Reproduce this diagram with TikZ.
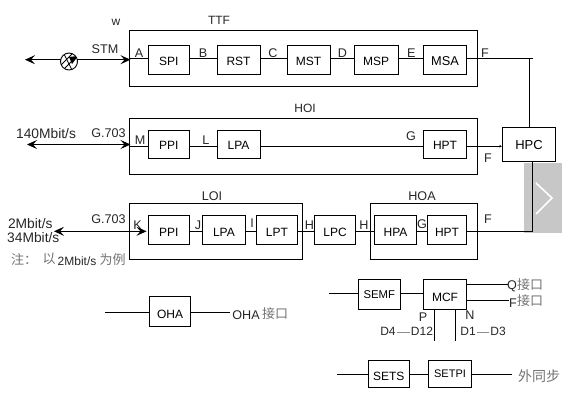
\documentclass[tikz,border=0pt]{standalone}
\usepackage{fontspec}
\setmainfont{Liberation Sans}
\newfontfamily\cjk{Noto Sans CJK SC}
\usetikzlibrary{arrows.meta}
\definecolor{cjkgrey}{gray}{0.45}
\newcommand{\bigfs}{\fontsize{13.8}{14}\selectfont}
\newcommand{\midfs}{\fontsize{12.6}{14}\selectfont}
\tikzset{
  sysbox/.style={draw=black,line width=0.9pt,fill=none},
  unit/.style={draw=black,line width=0.9pt,inner sep=0pt,text depth=0pt,font=\fontsize{12}{13}\selectfont},
  lab/.style={inner sep=0pt,font=\fontsize{12}{13}\selectfont,text=black!85},
  cjklab/.style={inner sep=0pt,font=\cjk\fontsize{13}{14}\selectfont,text=cjkgrey},
  wire/.style={line width=0.9pt,black},
  bidir/.style={wire,{Stealth[length=10pt,width=9pt,inset=4pt]}-{Stealth[length=10pt,width=9pt,inset=4pt]}},
}
% [text height], name, x0, y0, x1, y1, text
\newcommand{\unitbox}[7][10.6pt]{\node[unit,text height=#1,minimum width=#5pt-#3pt,minimum height=#6pt-#4pt] (#2) at ({(#3+#5)/2},{(#4+#6)/2}) {#7};}
\newcommand{\sysframe}[5]{\node[sysbox,inner sep=0pt,minimum width=#4pt-#2pt,minimum height=#5pt-#3pt] (#1) at ({(#2+#4)/2},{(#3+#5)/2}) {};}
\newcommand{\lb}[4]{\node[lab] (#1) at (#2,#3) {#4};}
\newcommand{\cl}[4]{\node[cjklab] (#1) at (#2,#3) {#4};}
\begin{document}
\begin{tikzpicture}[x=1pt,y=-1pt]
\useasboundingbox (0,0) rectangle (562,401);
% grey pager
\fill[black!22] (524,163) rectangle (562,232.5);
\draw[white,line width=1.6pt] (536,183) -- (552,198) -- (536,214);
% frames
\sysframe{ttf}{129}{30.3}{477.3}{86.3}
\sysframe{hoi}{129}{118.3}{477.3}{174.3}
\sysframe{loi}{129}{203.3}{302.7}{259.3}
\sysframe{hoa}{370.3}{203.3}{477.3}{259.3}
% row 1
\unitbox{spi}{148}{45.3}{189.5}{74.3}{SPI}
\unitbox{rst}{217}{45.3}{260}{74.3}{RST}
\unitbox{mst}{287.3}{45.3}{330}{74.3}{MST}
\unitbox{msp}{354.3}{45.3}{398}{74.3}{MSP}
\unitbox{msa}{423.3}{45.3}{466.7}{74.3}{\fontsize{12.8}{13}\selectfont MSA}
% row 2
\unitbox{ppia}{148}{130.3}{189.5}{158.3}{PPI}
\unitbox{lpaa}{217}{130.3}{260}{158.3}{LPA}
\unitbox{hpta}{423.3}{130.3}{466.7}{158.3}{HPT}
\unitbox{hpc}{502.3}{127}{555.7}{161.5}{\fontsize{13}{13}\selectfont HPC}
% row 3
\unitbox[13.6pt]{ppib}{148}{215.3}{189.5}{244.3}{PPI}
\unitbox[13.6pt]{lpab}{202.3}{215.3}{245.5}{244.3}{LPA}
\unitbox[13.6pt]{lpt}{256.3}{215.3}{297.7}{244.3}{LPT}
\unitbox[13.6pt]{lpc}{314.3}{215.3}{355.7}{244.3}{LPC}
\unitbox[13.6pt]{hpa}{374.3}{215.3}{416.7}{244.3}{HPA}
\unitbox[13.6pt]{hptb}{427.3}{215.3}{466.7}{244.3}{HPT}
% lower
\unitbox[14.6pt]{oha}{149.5}{296.3}{190.7}{326.3}{OHA}
\unitbox[8.6pt]{semf}{358.3}{279.3}{400.3}{309.3}{\fontsize{11.3}{12}\selectfont SEMF}
\unitbox[13.4pt]{mcf}{423.3}{279.3}{466.7}{309.3}{MCF}
\unitbox[12.6pt]{sets}{368.3}{360.3}{409.3}{387.3}{SETS}
\unitbox[6.6pt]{setpi}{428.3}{360.3}{471.7}{387.3}{\fontsize{11}{12}\selectfont SETPI}
% free ends and levels
\coordinate (ya) at (0,58.4);
\coordinate (yb) at (0,146.2);
\coordinate (yc) at (0,231.3);
\coordinate (yo) at (0,312.3);
\coordinate (ys) at (0,293.3);
\coordinate (yt) at (0,374);
\coordinate (yq) at (0,284.3);
\coordinate (yf) at (0,300.3);
\coordinate (stmL) at (25,59.7);
\coordinate (stmR) at (130.5,59.7);
\coordinate (eL) at (27,144.5);
\coordinate (eR) at (130.5,144.5);
\coordinate (tL) at (54,231.3);
\coordinate (tR) at (146.5,231.3);
\coordinate (fEnd) at (533,58.4);
\coordinate (fTurn) at (529.5,58.4);
\coordinate (fCorner) at (532,231.3);
\coordinate (ohaL) at (105,312.3);
\coordinate (ohaR) at (230,312.3);
\coordinate (semfL) at (329.3,293.3);
\coordinate (qEnd) at (507.7,284.3);
\coordinate (fiEnd) at (509.3,300.3);
\coordinate (pEnd) at (434.7,340.7);
\coordinate (nEnd) at (455.3,340.7);
\coordinate (setsL) at (337,374);
\coordinate (setR) at (511.7,374);
% connectors
\draw[bidir] (stmL) -- (stmR);
\draw[bidir] (eL) -- (eR);
\draw[bidir] (tL) -- (tR);
\draw[wire] (ttf.west|-ya) -- (spi.west|-ya);
\draw[wire] (spi.east|-ya) -- (rst.west|-ya);
\draw[wire] (rst.east|-ya) -- (mst.west|-ya);
\draw[wire] (mst.east|-ya) -- (msp.west|-ya);
\draw[wire] (msp.east|-ya) -- (msa.west|-ya);
\draw[wire] (msa.east|-ya) -- (fEnd);
\draw[wire] (fTurn) -- (fTurn|-hpc.north);
\draw[wire] (hoi.west|-yb) -- (ppia.west|-yb);
\draw[wire] (ppia.east|-yb) -- (lpaa.west|-yb);
\draw[wire] (lpaa.east|-yb) -- (hpta.west|-yb);
\draw[wire,-{Stealth[length=2.5pt,width=2.5pt]}] (hpta.east|-yb) -- (hpc.west|-yb);
\draw[wire] (fCorner|-hpc.south) -- (fCorner) -- (hptb.east|-yc);
\draw[wire] (ppib.east|-yc) -- (lpab.west|-yc);
\draw[wire] (lpab.east|-yc) -- (lpt.west|-yc);
\draw[wire] (lpt.east|-yc) -- (lpc.west|-yc);
\draw[wire] (lpc.east|-yc) -- (hpa.west|-yc);
\draw[wire] (hpa.east|-yc) -- (hptb.west|-yc);
\draw[wire] (ohaL) -- (oha.west|-yo);
\draw[wire] (oha.east|-yo) -- (ohaR);
\draw[wire] (semfL) -- (semf.west|-ys);
\draw[wire] (semf.east|-ys) -- (mcf.west|-ys);
\draw[wire] (mcf.east|-yq) -- (qEnd);
\draw[wire] (mcf.east|-yf) -- (fiEnd);
\draw[wire] (pEnd|-mcf.south) -- (pEnd);
\draw[wire] (nEnd|-mcf.south) -- (nEnd);
\draw[wire] (setsL) -- (sets.west|-yt);
\draw[wire] (sets.east|-yt) -- (setpi.west|-yt);
\draw[wire] (setpi.east|-yt) -- (setR);
% globe
\node[circle,draw=black,line width=0.9pt,fill=white,minimum size=17pt,inner sep=0pt] (globe) at (69,61.5) {};
\begin{scope}
\clip (globe.center) circle (8.5pt);
\draw[line width=0.8pt] (60,66) -- (72,54) (63,70) -- (77,56);
\draw[line width=0.8pt] (64,54) -- (72,70);
\fill[black] (69,57) -- (78,56) -- (72,64) -- cycle;
\end{scope}
% labels
\lb{w}{116}{22}{w}
\lb{ttfL}{219}{20.5}{TTF}
\lb{stm}{105}{49.5}{\midfs STM}
\lb{la}{139}{53}{\midfs A}
\lb{lb}{203}{53.5}{\midfs B}
\lb{lc}{273}{53}{\midfs C}
\lb{ld}{342.3}{53}{\midfs D}
\lb{le}{411.3}{53}{\midfs E}
\lb{lf}{485}{53}{\midfs F}
\lb{hoiL}{305}{108.5}{HOI}
\lb{rate}{46}{133.5}{\bigfs 140Mbit/s}
\lb{gA}{108.5}{133.5}{\midfs G.703}
\lb{lm}{140}{140.5}{\midfs M}
\lb{ll}{206}{140}{\midfs L}
\lb{lg}{411}{136.5}{\midfs G}
\lb{lf2}{488}{158}{\midfs F}
\lb{loiL}{212}{196}{\midfs LOI}
\lb{hoaL}{422}{196}{\midfs HOA}
\lb{gB}{108.5}{219.5}{\midfs G.703}
\lb{rb}{30.3}{224}{\bigfs 2Mbit/s}
\lb{rc}{33.3}{238}{\bigfs 34Mbit/s}
\lb{lk}{137.5}{225}{\midfs K}
\lb{lj}{198}{225}{\midfs J}
\lb{li}{252}{223}{\midfs I}
\lb{lh}{309.3}{225}{\midfs H}
\lb{lh2}{364}{225}{\midfs H}
\lb{lg2}{422}{224}{\midfs G}
\lb{lf3}{488}{219}{\midfs F}
\cl{noteA}{24}{259.5}{注：}
\cl{noteB}{49}{259}{以}
\lb{noteC}{77}{261}{2Mbit/s}
\cl{noteD}{112.5}{259.5}{为例}
\lb{ohaT}{246}{315.5}{\midfs OHA}
\cl{ohaC}{275}{314}{接口}
\lb{lq}{512}{286.5}{\midfs Q}
\cl{qC}{530}{284.5}{接口}
\lb{lfi}{513}{303}{\midfs F}
\cl{fC}{530}{301}{接口}
\lb{lp}{423}{317}{\midfs P}
\lb{ln}{470}{315.5}{\midfs N}
\lb{dA}{388}{331.5}{D4}
\lb{dB}{422}{331.5}{D12}
\lb{dC}{468}{331.5}{D1}
\lb{dD}{498}{331.5}{D3}
\draw[black!45,line width=0.5pt] ([xshift=1pt,yshift=-1pt]dA.east) -- ([xshift=-1pt,yshift=-1pt]dB.west);
\draw[black!45,line width=0.5pt] ([xshift=1pt,yshift=-1pt]dC.east) -- ([xshift=-1pt,yshift=-1pt]dD.west);
\cl{wai}{539}{376}{\fontsize{14}{14}\selectfont 外同步}
\end{tikzpicture}
\end{document}
